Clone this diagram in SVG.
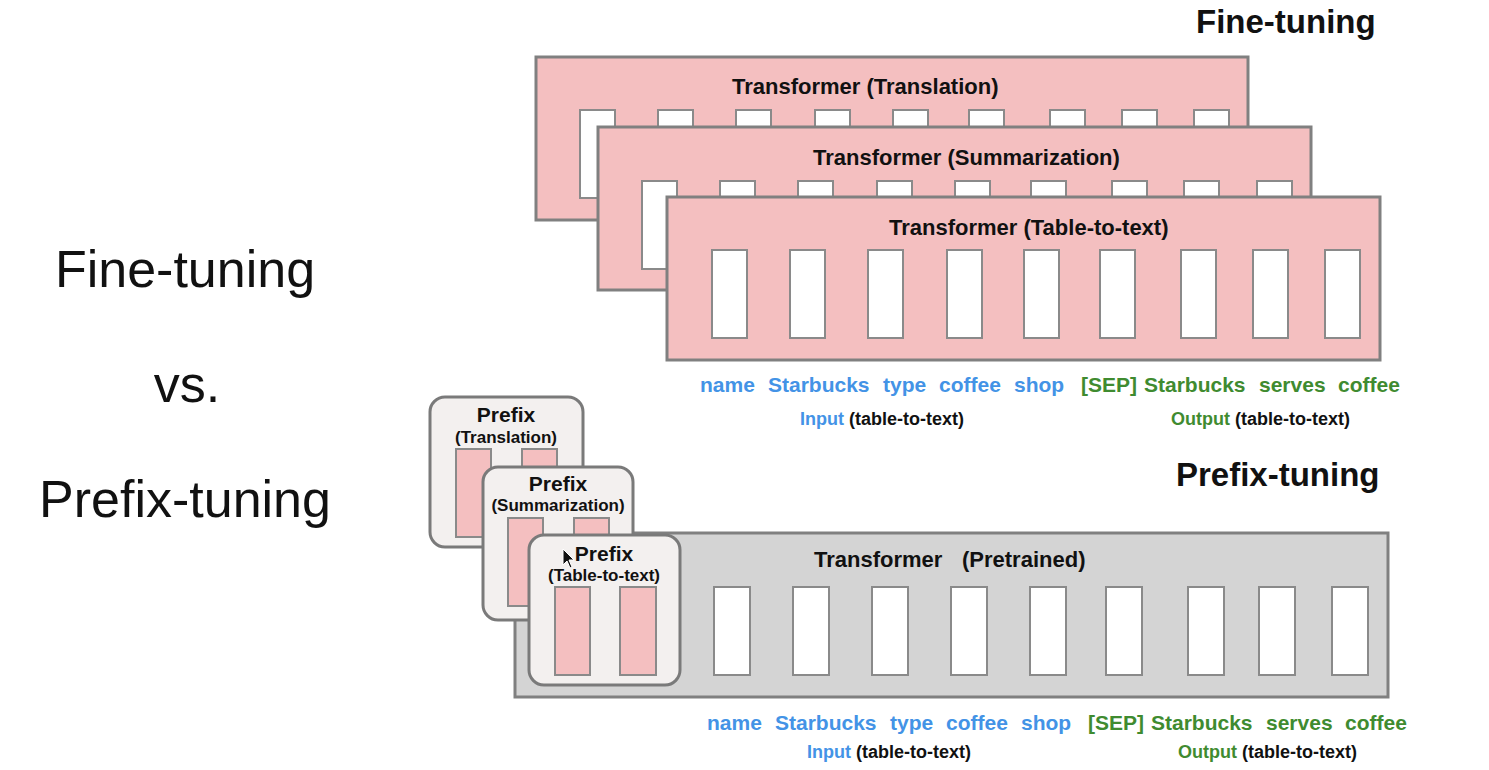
<svg xmlns="http://www.w3.org/2000/svg" width="1489" height="770" viewBox="0 0 1489 770">
<style>
  text { font-family: "Liberation Sans", Arial, sans-serif; font-weight: bold; fill: #111; }
  .big { font-weight: normal; font-size: 52px; text-anchor: middle; }
  .title { font-size: 33px; }
  .tf { fill: #f4bfc0; stroke: #808080; stroke-width: 3; }
  .tg { fill: #d4d4d4; stroke: #808080; stroke-width: 3; }
  .slot { fill: #ffffff; stroke: #8a8a8a; stroke-width: 2; }
  .pbox { fill: #f3f0ef; stroke: #7a7a7a; stroke-width: 3; }
  .pslot { fill: #f4bfc0; stroke: #8a8a8a; stroke-width: 2; }
  .hdr { font-size: 22px; }
  .ph { font-size: 21px; text-anchor: middle; }
  .ps { font-size: 17px; text-anchor: middle; }
  .tok { font-size: 21px; }
  .lab { font-size: 18px; }
  .blue { fill: #4393e6; }
  .green { fill: #3f8b30; }
</style>

<g id="left-labels">
  <text class="big" x="185" y="287">Fine-tuning</text>
  <text class="big" x="187" y="402">vs.</text>
  <text class="big" x="185" y="517">Prefix-tuning</text>
</g>

<g id="title-finetuning"><text class="title" x="1196" y="33">Fine-tuning</text></g>
<g id="title-prefixtuning"><text class="title" x="1176" y="486">Prefix-tuning</text></g>

<g id="transformer-translation">
  <rect class="tf" x="536" y="57" width="712" height="163"/>
  <text class="hdr" x="732" y="94">Transformer (Translation)</text>
  <rect class="slot" x="580" y="110" width="35" height="88"/>
  <rect class="slot" x="658" y="110" width="35" height="88"/>
  <rect class="slot" x="736" y="110" width="35" height="88"/>
  <rect class="slot" x="815" y="110" width="35" height="88"/>
  <rect class="slot" x="893" y="110" width="35" height="88"/>
  <rect class="slot" x="969" y="110" width="35" height="88"/>
  <rect class="slot" x="1050" y="110" width="35" height="88"/>
  <rect class="slot" x="1122" y="110" width="35" height="88"/>
  <rect class="slot" x="1194" y="110" width="35" height="88"/>
</g>

<g id="transformer-summarization">
  <rect class="tf" x="598" y="127" width="713" height="163"/>
  <text class="hdr" x="813" y="165">Transformer (Summarization)</text>
  <rect class="slot" x="642" y="181" width="35" height="88"/>
  <rect class="slot" x="720" y="181" width="35" height="88"/>
  <rect class="slot" x="798" y="181" width="35" height="88"/>
  <rect class="slot" x="877" y="181" width="35" height="88"/>
  <rect class="slot" x="955" y="181" width="35" height="88"/>
  <rect class="slot" x="1031" y="181" width="35" height="88"/>
  <rect class="slot" x="1112" y="181" width="35" height="88"/>
  <rect class="slot" x="1184" y="181" width="35" height="88"/>
  <rect class="slot" x="1257" y="181" width="35" height="88"/>
</g>

<g id="transformer-table-to-text">
  <rect class="tf" x="667" y="197" width="713" height="163"/>
  <text class="hdr" x="889" y="235">Transformer (Table-to-text)</text>
  <rect class="slot" x="712" y="250" width="35" height="88"/>
  <rect class="slot" x="790" y="250" width="35" height="88"/>
  <rect class="slot" x="868" y="250" width="35" height="88"/>
  <rect class="slot" x="947" y="250" width="35" height="88"/>
  <rect class="slot" x="1024" y="250" width="35" height="88"/>
  <rect class="slot" x="1100" y="250" width="35" height="88"/>
  <rect class="slot" x="1181" y="250" width="35" height="88"/>
  <rect class="slot" x="1253" y="250" width="35" height="88"/>
  <rect class="slot" x="1325" y="250" width="35" height="88"/>
</g>

<g id="tokens-finetuning">
  <text class="tok blue" x="700" y="392">name</text>
  <text class="tok blue" x="768" y="392">Starbucks</text>
  <text class="tok blue" x="883" y="392">type</text>
  <text class="tok blue" x="939" y="392">coffee</text>
  <text class="tok blue" x="1014" y="392">shop</text>
  <text class="tok green" x="1081" y="392">[SEP]</text>
  <text class="tok green" x="1144" y="392">Starbucks</text>
  <text class="tok green" x="1259" y="392">serves</text>
  <text class="tok green" x="1338" y="392">coffee</text>
  <text class="lab" x="800" y="425"><tspan class="blue">Input</tspan> (table-to-text)</text>
  <text class="lab" x="1171" y="425"><tspan class="green">Output</tspan> (table-to-text)</text>
</g>

<g id="transformer-pretrained">
  <rect class="tg" x="515" y="533" width="873" height="164"/>
  <text class="hdr" x="814" y="567">Transformer <tspan x="962">(Pretrained)</tspan></text>
  <rect class="slot" x="714" y="587" width="36" height="88"/>
  <rect class="slot" x="793" y="587" width="36" height="88"/>
  <rect class="slot" x="872" y="587" width="36" height="88"/>
  <rect class="slot" x="951" y="587" width="36" height="88"/>
  <rect class="slot" x="1030" y="587" width="36" height="88"/>
  <rect class="slot" x="1106" y="587" width="36" height="88"/>
  <rect class="slot" x="1188" y="587" width="36" height="88"/>
  <rect class="slot" x="1259" y="587" width="36" height="88"/>
  <rect class="slot" x="1332" y="587" width="36" height="88"/>
</g>

<g id="prefix-translation">
  <rect class="pbox" x="430" y="397" width="153" height="150" rx="15"/>
  <text class="ph" x="506" y="422">Prefix</text>
  <text class="ps" x="506" y="443">(Translation)</text>
  <rect class="pslot" x="456" y="449" width="35" height="88"/>
  <rect class="pslot" x="522" y="449" width="35" height="88"/>
</g>

<g id="prefix-summarization">
  <rect class="pbox" x="483" y="467" width="150" height="153" rx="15"/>
  <text class="ph" x="558" y="491">Prefix</text>
  <text class="ps" x="558" y="511">(Summarization)</text>
  <rect class="pslot" x="508" y="518" width="35" height="88"/>
  <rect class="pslot" x="574" y="518" width="35" height="88"/>
</g>

<g id="prefix-table-to-text">
  <rect class="pbox" x="529" y="535" width="151" height="150" rx="15"/>
  <text class="ph" x="604" y="561">Prefix</text>
  <text class="ps" x="604" y="581">(Table-to-text)</text>
  <rect class="pslot" x="555" y="587" width="35" height="88"/>
  <rect class="pslot" x="620" y="587" width="36" height="88"/>
  <polygon points="563,549 563,565 567,561 570,568 572,567 569,560 574,560" fill="#111" stroke="#fff" stroke-width="1"/>
</g>

<g id="tokens-prefixtuning">
  <text class="tok blue" x="707" y="730">name</text>
  <text class="tok blue" x="775" y="730">Starbucks</text>
  <text class="tok blue" x="890" y="730">type</text>
  <text class="tok blue" x="946" y="730">coffee</text>
  <text class="tok blue" x="1021" y="730">shop</text>
  <text class="tok green" x="1088" y="730">[SEP]</text>
  <text class="tok green" x="1151" y="730">Starbucks</text>
  <text class="tok green" x="1266" y="730">serves</text>
  <text class="tok green" x="1345" y="730">coffee</text>
  <text class="lab" x="807" y="758"><tspan class="blue">Input</tspan> (table-to-text)</text>
  <text class="lab" x="1178" y="758"><tspan class="green">Output</tspan> (table-to-text)</text>
</g>

<g id="connectors"></g>
</svg>
